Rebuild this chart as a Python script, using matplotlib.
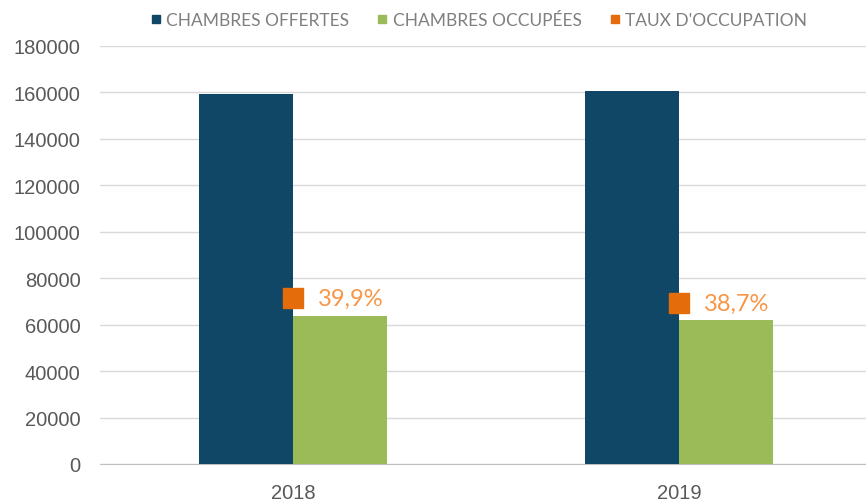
import numpy as np
import matplotlib.pyplot as plt
from matplotlib.lines import Line2D

# data
years = ["2018", "2019"]
chambres_offertes = [159300, 160800]
chambres_occupees = [63600, 62200]
taux_occupation = [39.9, 38.7]
legend_labels = ["CHAMBRES OFFERTES", "CHAMBRES OCCUPÉES", "TAUX D'OCCUPATION"]

c_blue = "#104766"
c_green = "#9BBB59"
c_orange = "#E46C0A"
c_label = "#F79646"
c_text = "#595959"

fig = plt.figure(figsize=(8.66, 5.02), dpi=100)
ax = fig.add_axes([100 / 866, 37 / 502, 766 / 866, 418 / 502])

x = np.arange(len(years))
w = 0.2435
ax.bar(x - w / 2, chambres_offertes, w, color=c_blue, zorder=3)
ax.bar(x + w / 2, chambres_occupees, w, color=c_green, zorder=3)

ax.set_xlim(-0.5, -0.5 + 766 / 386)
ax.set_ylim(0, 180000)
ax.set_yticks(np.arange(0, 180001, 20000))
ax.set_xticks(x)
ax.set_xticklabels(years)
ax.grid(axis="y", color="#D9D9D9", linewidth=1, zorder=0)
for s in ["top", "right", "left"]:
    ax.spines[s].set_visible(False)
ax.spines["bottom"].set_color("#BFBFBF")
ax.tick_params(axis="both", length=0, labelsize=14.5, labelcolor=c_text)
ax.tick_params(axis="y", pad=14)
ax.tick_params(axis="x", pad=14)
for lab in ax.get_xticklabels() + ax.get_yticklabels():
    lab.set_family("Liberation Sans")

# secondary axis for the rate
ax2 = ax.twinx()
ax2.set_ylim(0, 100.6)
ax2.axis("off")
ax2.plot(x, taux_occupation, linestyle="none", marker="s", markersize=14.5,
         color=c_orange, zorder=4)
for xi, t in zip(x, taux_occupation):
    ax2.annotate(f"{t:.1f}%".replace(".", ","), (xi, t), xytext=(18, 0),
                 textcoords="offset points", va="center", ha="left",
                 fontsize=17, color=c_label, family="Lato")

handles = [Line2D([], [], linestyle="none", marker="s", markersize=6, color=c)
           for c in [c_blue, c_green, c_orange]]
fig.legend(handles, legend_labels, loc="center", bbox_to_anchor=(0.553, 0.958),
           ncol=3, frameon=False, handlelength=0.6, handletextpad=0.3,
           columnspacing=1.6, prop={"family": "Lato", "size": 12.5},
           labelcolor="#7F7F7F")

fig.savefig("out.png", dpi=100)
